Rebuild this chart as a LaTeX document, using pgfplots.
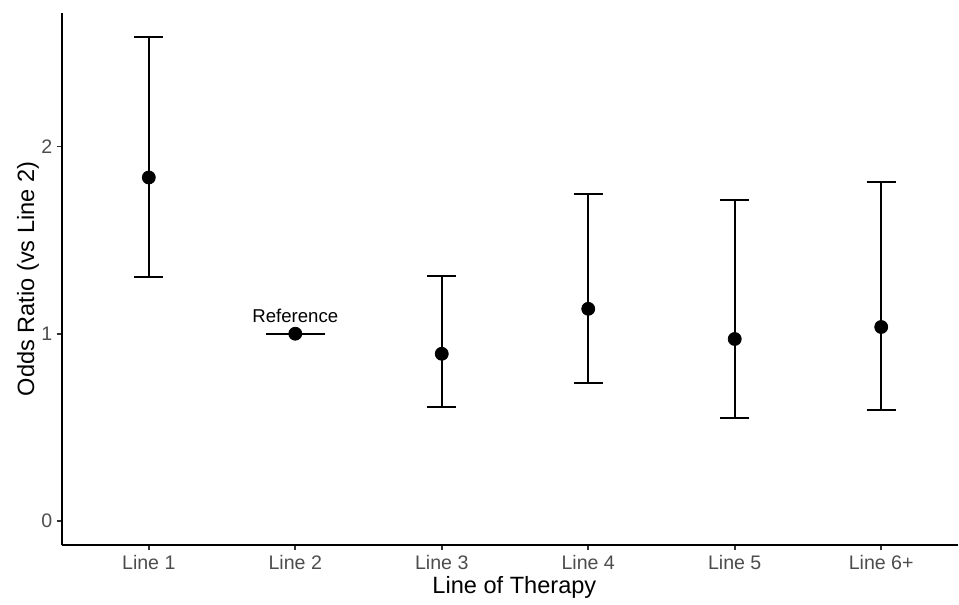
\documentclass[border=0pt]{standalone}
\usepackage{fontspec}
\setmainfont{Liberation Sans}
\usepackage{pgfplots}
\pgfplotsset{compat=1.18}
\definecolor{tickgray}{HTML}{4D4D4D}
\definecolor{tickline}{HTML}{333333}

\begin{document}
\begin{tikzpicture}
\begin{axis}[
  scale only axis,
  width=448.5bp, height=266.5bp,
  xmin=0.407, xmax=6.525,
  ymin=-0.129, ymax=2.713,
  axis lines=left,
  axis line style={-, black, line width=0.9bp},
  xtick={1,2,3,4,5,6},
  xticklabels={Line 1, Line 2, Line 3, Line 4, Line 5, Line 6+},
  ytick={0,1,2},
  tick align=outside,
  major tick length=2.6bp,
  tick style={tickline, line width=0.8bp},
  /pgf/number format/assume math mode=true,
  ticklabel style={font=\fontsize{9.8bp}{12bp}\selectfont, text=tickgray},
  xticklabel style={inner sep=0pt, anchor=north, yshift=-2.4bp},
  yticklabel style={inner sep=0pt, anchor=east, xshift=-2bp},
  xlabel={Line of Therapy},
  ylabel={Odds Ratio (vs Line 2)},
  label style={font=\fontsize{11.8bp}{14bp}\selectfont},
  xlabel style={at={(axis description cs:0.5049,-0.079)}, anchor=center},
  ylabel style={at={(axis description cs:-0.0379,0.5)}, anchor=center},
  clip=false,
]
% reference bar for Line 2
\addplot[black, line width=1bp, no marks] coordinates {(1.8,1)(2.2,1)};
% odds ratios with 95% CI
\addplot[
  only marks, mark=*, mark size=3.25bp, black,
  error bars/.cd,
    y dir=both, y explicit,
    error bar style={line width=1bp, black},
    error mark options={rotate=90, mark size=7.25bp, line width=1bp, black},
] coordinates {
  (1,1.834) += (0,0.750) -= (0,0.529)
  (3,0.893) += (0,0.413) -= (0,0.284)
  (4,1.133) += (0,0.612) -= (0,0.396)
  (5,0.972) += (0,0.743) -= (0,0.422)
  (6,1.036) += (0,0.773) -= (0,0.441)
};
\addplot[only marks, mark=*, mark size=3.25bp, black] coordinates {(2,1)};
\node[font=\fontsize{9.3bp}{11bp}\selectfont, anchor=center] at (axis cs:2,1.096) {Reference};
\end{axis}
\path[use as bounding box] (-31bp,-27.65bp) rectangle (448.5bp,272.9bp);
\end{tikzpicture}
\end{document}
